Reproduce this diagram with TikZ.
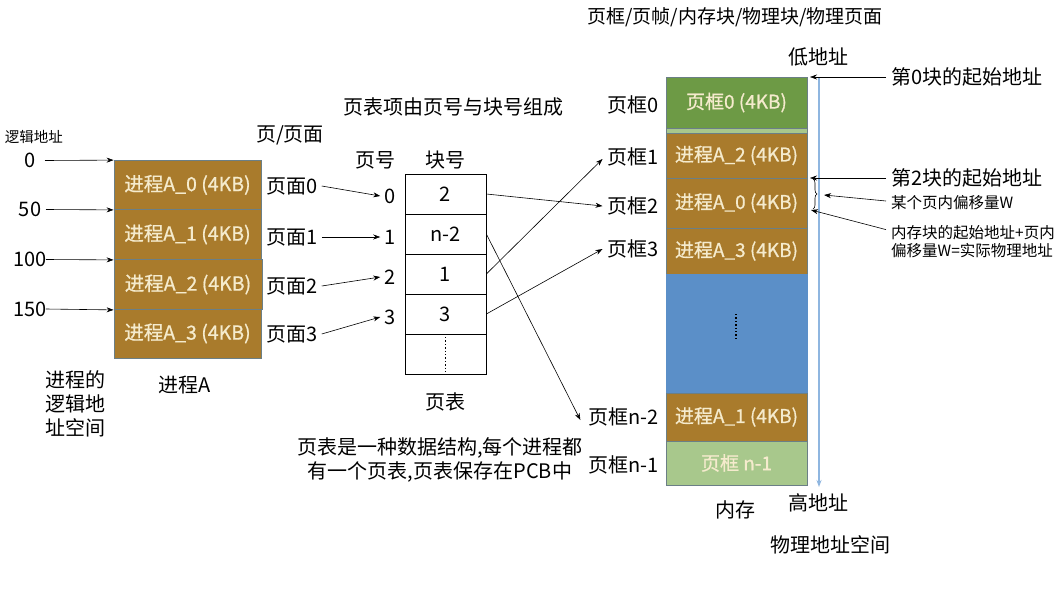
\documentclass[tikz,border=0pt]{standalone}
\usepackage{fontspec}
\setmainfont{Noto Sans CJK SC}
\newfontfamily\boxfont[FakeBold=0.8]{Noto Sans CJK SC}
\usetikzlibrary{arrows.meta,decorations.pathreplacing}
\definecolor{procbrown}{HTML}{A97B2C}
\definecolor{boxedge}{HTML}{6B7F86}
\definecolor{creamtxt}{HTML}{F5EBCD}
\definecolor{darkgreen}{HTML}{6D9A45}
\definecolor{lightgreen}{HTML}{A8C88C}
\definecolor{memblue}{HTML}{5B8FC8}
\definecolor{axisblue}{HTML}{8FB6E0}
\tikzset{
  lbl/.style={font=\fontsize{20}{24}\selectfont, inner sep=1pt},
  smalllbl/.style={font=\fontsize{15.5}{18}\selectfont, inner sep=1pt, align=left},
  pbox/.style={draw=boxedge, line width=0.8pt, fill=procbrown, text=creamtxt,
    font=\boxfont\fontsize{19.5}{22}\selectfont, minimum width=147pt, inner sep=0pt},
  mbox/.style={draw=boxedge, line width=0.6pt, text=creamtxt,
    font=\boxfont\fontsize{19}{22}\selectfont, minimum width=141pt, inner sep=0pt},
  cell/.style={draw=black, line width=0.7pt, fill=white, minimum width=81pt,
    minimum height=40pt, inner sep=0pt, font=\fontsize{20}{24}\selectfont},
  arr/.style={-{Stealth[length=7pt,width=5pt]}, line width=0.6pt},
}
\begin{document}
\begin{tikzpicture}[x=1pt,y=-1pt]
\useasboundingbox (0,0) rectangle (1057,589);
\fill[white] (0,0) rectangle (1057,589);

% ---------- process A logical space ----------
\node[pbox, minimum height=49pt] (a0) at (187.5,185) {进程A\_0 (4KB)};
\node[pbox, minimum height=50pt] (a1) at (187.5,234.5) {进程A\_1 (4KB)};
\node[pbox, minimum height=50pt, minimum width=148pt] (a2) at (188,284.5) {进程A\_2 (4KB)};
\node[pbox, minimum height=49pt] (a3) at (187.5,333.5) {进程A\_3 (4KB)};

\node[smalllbl, font=\fontsize{14.5}{17}\selectfont] (logaddr) at (34,137) {逻辑地址};
\node[lbl] (n0) at (30,160) {0};
\node[lbl] (n50) at (30,209) {50};
\node[lbl] (n100) at (30,259) {100};
\node[lbl] (n150) at (30,309) {150};
\coordinate (s0) at (45,160.5);
\coordinate (s50) at (46,209.5);
\coordinate (s100) at (46,259.5);
\coordinate (s150) at (46,309);
\draw[arr] (s0) -- (a0.north west);
\draw[arr] (s50) -- (a0.south west);
\draw[arr] (s100) -- (a1.south west);
\draw[arr] (s150) -- (a2.south west);

\node[lbl, align=center] (lspace) at (75,404) {进程的\\逻辑地\\址空间};
\node[lbl] (procA) at (185,385) {进程A};
\node[lbl] (pagehdr) at (290,135) {页/页面};
\node[lbl] (p0) at (292,186) {页面0};
\node[lbl] (p1) at (292,237) {页面1};
\node[lbl] (p2) at (292,286) {页面2};
\node[lbl] (p3) at (292,334) {页面3};

% ---------- page table ----------
\node[lbl] (pthdr) at (453,107) {页表项由页号与块号组成};
\node[lbl] (pnhdr) at (375,160) {页号};
\node[lbl] (bnhdr) at (445,160) {块号};
\node[cell] (t0) at (445.5,194) {2};
\node[cell] (t1) at (445.5,234) {n-2};
\node[cell] (t2) at (445.5,274) {1};
\node[cell] (t3) at (445.5,314) {3};
\node[cell] (t4) at (445.5,354) {};
\draw[dotted, line width=1.4pt] (445.5,337) -- (445.5,373);
\node[lbl, inner sep=4pt] (i0) at (390,196) {0};
\node[lbl, inner sep=4pt] (i1) at (390,237) {1};
\node[lbl, inner sep=4pt] (i2) at (390,277) {2};
\node[lbl, inner sep=4pt] (i3) at (390,317) {3};
\draw[arr] (p0.east) ++(3,0) -- (i0.west);
\draw[arr] (p1.east) ++(3,0) -- (i1.west);
\draw[arr] (p2.east) ++(3,0) -- (i2.west);
\draw[arr] (p3.east) ++(3,0) -- (i3.west);
\node[lbl] (ptlbl) at (445,402) {页表};
\node[lbl, align=center] (ptnote) at (440,460) {页表是一种数据结构,每个进程都\\有一个页表,页表保存在PCB中};

% ---------- memory ----------
\node[lbl, font=\fontsize{19}{22}\selectfont] (title) at (735,17) {页框/页帧/内存块/物理块/物理页面};
\node[mbox, fill=darkgreen, minimum height=51pt] (m0) at (736.5,102.5) {页框0 (4KB)};
\node[mbox, fill=lightgreen, minimum height=5pt] (mstrip) at (736.5,130.5) {};
\node[mbox, fill=procbrown, minimum height=45pt] (m1) at (736.5,155.5) {进程A\_2 (4KB)};
\node[mbox, fill=procbrown, minimum height=50pt] (m2) at (736.5,203) {进程A\_0 (4KB)};
\node[mbox, fill=procbrown, minimum height=46pt] (m3) at (736.5,251) {进程A\_3 (4KB)};
\node[mbox, fill=memblue, draw=memblue, minimum height=119pt] (mfree) at (736.5,333.5) {};
\draw[dotted, line width=1.4pt] (736,314) -- (736,341);
\node[mbox, fill=procbrown, minimum height=48pt] (m5) at (736.5,417) {进程A\_1 (4KB)};
\node[mbox, fill=lightgreen, minimum height=44pt] (m6) at (736.5,463) {页框 n-1};

\node[lbl, anchor=east] (f0) at (660,105) {页框0};
\node[lbl, anchor=east] (f1) at (660,157) {页框1};
\node[lbl, anchor=east] (f2) at (660,206) {页框2};
\node[lbl, anchor=east] (f3) at (660,249) {页框3};
\node[lbl, anchor=east] (fn2) at (660,417) {页框n-2};
\node[lbl, anchor=east] (fn1) at (660,465) {页框n-1};

\draw[arr] (t0.east) -- ([xshift=-4pt]f2.west);
\draw[arr] (t1.east) -- ([xshift=-7pt,yshift=-3pt]fn2.west);
\draw[arr] (t2.east) -- ([xshift=-4pt,yshift=-2pt]f1.west);
\draw[arr] (t3.east) -- ([xshift=-4pt]f3.west);

% address axis
\coordinate (axtop) at (819,77);
\coordinate (axbot) at (819,487);
\draw[-{Stealth[length=7pt,width=5pt]}, axisblue, line width=1.2pt] (axtop) -- (axbot);
\node[lbl] (low) at (818,57) {低地址};
\node[lbl] (high) at (818,503) {高地址};
\node[lbl] (mem) at (735,510) {内存};
\node[lbl] (pspace) at (830,545) {物理地址空间};

% right annotations
\node[lbl, anchor=west] (b0start) at (890,77) {第0块的起始地址};
\node[lbl, anchor=west] (b2start) at (890,178) {第2块的起始地址};
\node[smalllbl, anchor=west] (offs) at (890,203) {某个页内偏移量W};
\node[smalllbl, anchor=west] (phys) at (890,242) {内存块的起始地址+页内\\偏移量W=实际物理地址};
\coordinate (b0tip) at (810,77);
\coordinate (b2tip) at (810,178);
\coordinate (addrtip) at (811,210);
\draw[arr] (b0start.west) ++(-4,0) -- (b0tip);
\draw[arr] (b2start.west) ++(-4,0) -- (b2tip);
\draw[decorate, decoration={brace, amplitude=4pt}, line width=0.6pt] (813,179) -- (813,209);
\coordinate (bracetip) at (824,195);
\draw[arr] (offs.west) ++(-4,-2) -- (bracetip);
\draw[arr] ([xshift=-4pt]phys.north west) ++(0,5) -- (addrtip);
\end{tikzpicture}
\end{document}
